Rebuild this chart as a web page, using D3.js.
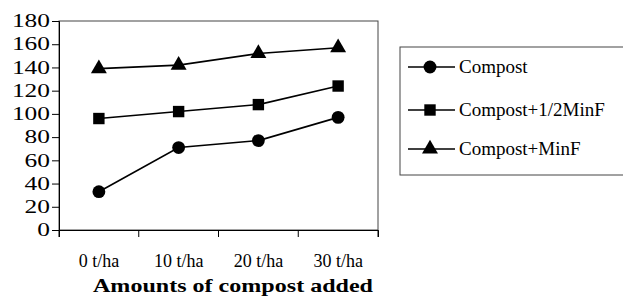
<!DOCTYPE html>
<html>
<head>
<meta charset="utf-8">
<script src="https://cdn.jsdelivr.net/npm/d3@7"></script>
<style>
  body{margin:0;background:#fff}
  #chart, #chart text{font-family:"Times New Roman","Liberation Serif",Times,serif}
</style>
</head>
<body>
<svg id="chart" width="623" height="303" font-family="Times New Roman"></svg>
<script>
const categories=["0 t/ha","10 t/ha","20 t/ha","30 t/ha"]
const compost=[33,71,77,97]
const compostHalfMinF=[96,102,108,124]
const compostMinF=[139,142,152,157]
const yTicks=[0,20,40,60,80,100,120,140,160,180]
const seriesNames=["Compost","Compost+1/2MinF","Compost+MinF"]
const symbols=[d3.symbolCircle,d3.symbolSquare,d3.symbolTriangle]

const series=[compost,compostHalfMinF,compostMinF]
const serif="Times New Roman"

const svg=d3.select("#chart")
const mLeft=59,mRight=378,mTop=21,mBottom=230

const xscale=d3.scaleBand().domain(categories).range([mLeft,mRight])
const yscale=d3.scaleLinear().domain([0,180]).range([mBottom,mTop])

// plot frame
svg.append("rect")
  .attr("x",mLeft).attr("y",mTop)
  .attr("width",mRight-mLeft).attr("height",mBottom-mTop)
  .attr("fill","none").attr("stroke","#444").attr("stroke-width",1)

const yaxis=d3.axisLeft(yscale).tickValues(yTicks).tickSize(7).tickPadding(2)
const gy=svg.append("g").attr("transform",`translate(${mLeft},0)`).call(yaxis)
gy.attr("font-family",serif).attr("font-size",18)
// the scanned labels are wide, stretch them a bit
gy.selectAll("text")
  .attr("font-family",serif)
  .attr("textLength",d=>String(d).length*12.7)
  .attr("lengthAdjust","spacingAndGlyphs")

const xaxis=d3.axisBottom(xscale).tickSize(7).tickSizeOuter(7).tickPadding(0)
const gx=svg.append("g").attr("transform",`translate(0,${mBottom})`).call(xaxis)
gx.attr("font-family",serif).attr("font-size",18)
gx.selectAll(".tick line")
  .attr("transform",`translate(${-xscale.bandwidth()/2},0)`)
gx.selectAll("text").attr("y",37).attr("dy",0).attr("font-family",serif)
gx.append("line")
  .attr("x1",mRight).attr("x2",mRight).attr("y1",0).attr("y2",7)
  .attr("stroke","#000")
svg.selectAll(".domain").attr("stroke","#000")
svg.selectAll(".tick line").attr("stroke","#000")
svg.selectAll(".tick text").attr("fill","#000")

svg.append("text")
  .attr("x",93).attr("y",292)
  .attr("font-family",serif).attr("font-size",19).attr("font-weight","bold")
  .attr("textLength",280).attr("lengthAdjust","spacingAndGlyphs")
  .text("Amounts of compost added")

const cx=d=>xscale(d)+xscale.bandwidth()/2
const line=d3.line().x((d,i)=>cx(categories[i])).y(d=>yscale(d))

series.forEach((vals,k)=>{
  svg.append("path").datum(vals)
    .attr("d",line).attr("fill","none")
    .attr("stroke","#000").attr("stroke-width",1.6)
  svg.selectAll(".m"+k).data(vals).enter()
    .append("path")
    .attr("d",d3.symbol().type(symbols[k]).size(k===2?110:130))
    .attr("transform",(d,i)=>`translate(${cx(categories[i])},${yscale(d)})`)
    .attr("fill","#000")
})

// legend
const lg=svg.append("g")
lg.append("rect")
  .attr("x",400).attr("y",47).attr("width",230).attr("height",128)
  .attr("fill","none").attr("stroke","#444")
seriesNames.forEach((name,k)=>{
  const y=[67,110,149][k]
  lg.append("line").attr("x1",408).attr("x2",455).attr("y1",y).attr("y2",y)
    .attr("stroke","#000").attr("stroke-width",1.6)
  lg.append("path")
    .attr("d",d3.symbol().type(symbols[k]).size(k===2?110:130))
    .attr("transform",`translate(430,${y})`).attr("fill","#000")
  lg.append("text").attr("x",459).attr("y",y+6)
    .attr("font-family",serif).attr("font-size",19)
    .attr("fill","#000").text(name)
})
</script>
</body>
</html>
